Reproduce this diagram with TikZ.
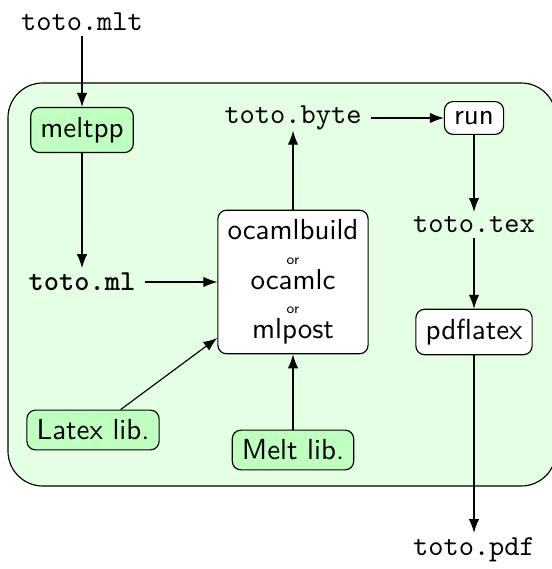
\documentclass[tikz,border=0pt]{standalone}
\usepackage{tikz}
\usetikzlibrary{arrows.meta, positioning}

\begin{document}
\begin{tikzpicture}[x=0.345pt, y=-0.345pt, >=Latex,
	tool/.style={draw, rounded corners=3pt, fill=white, font=\sffamily},
	lib/.style={tool, fill=green!25},
	file/.style={font=\ttfamily, inner xsep=3pt, inner ysep=1.5pt}]
	\useasboundingbox (0,0) rectangle (551,569);

	% Background
	\draw[fill=green!10, rounded corners=12pt] (8,83) rectangle (556,486);

	% Nodes
	\node[file] (mlt) at (82,22) {toto.mlt};
	\node[lib] (meltpp) at (82,130) {meltpp};
	\node[file, font=\ttfamily\bfseries] (ml) at (82,282) {toto.ml};
	\node[tool, align=center] (ocaml) at (293,282)
		{ocamlbuild\\[-3.5pt]{\tiny or}\\[-3.5pt]ocamlc\\[-3.5pt]{\tiny or}\\[-3.5pt]mlpost};
	\node[lib] (latexlib) at (93,430) {Latex lib.};
	\node[lib] (meltlib) at (293,450) {Melt lib.};
	\node[file, inner ysep=0pt] (byte) at (293,118) {toto.byte};
	\node[tool] (run) at (474,118) {run};
	\node[file] (tex) at (474,225) {toto.tex};
	\node[tool] (pdflatex) at (474,332) {pdflatex};
	\node[file] (pdf) at (474,550) {toto.pdf};

	% Arrows
	\draw[->] (mlt) -- (meltpp);
	\draw[->] (meltpp) -- (ml);
	\draw[->] (ml) -- (ocaml);
	\draw[->] (latexlib) -- (ocaml);
	\draw[->] (meltlib) -- (ocaml);
	\draw[->] (ocaml) -- (byte);
	\draw[->] (byte) -- (run);
	\draw[->] (run) -- (tex);
	\draw[->] (tex) -- (pdflatex);
	\draw[->] (pdflatex) -- (pdf);
\end{tikzpicture}
\end{document}
